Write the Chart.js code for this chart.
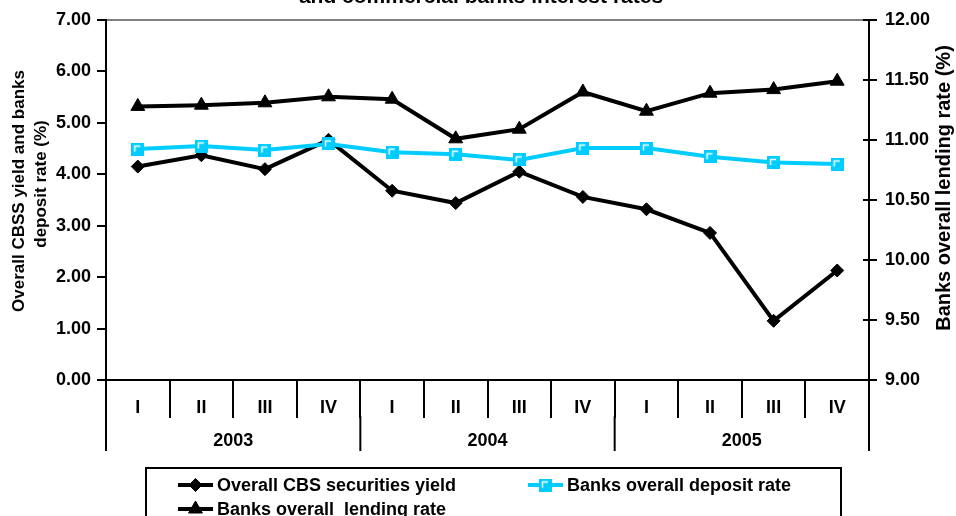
<!DOCTYPE html>
<html>
<head>
<meta charset="utf-8">
<script src="https://cdn.jsdelivr.net/npm/chart.js@4.4.1/dist/chart.umd.min.js"></script>
<style>
  html, body { margin: 0; padding: 0; background: #fff; }
  #wrap { width: 956px; height: 516px; overflow: hidden; }
</style>
</head>
<body>
<div id="wrap"><canvas id="rates" width="956" height="516"></canvas></div>
<script>
// quarterly figures, 2003-2005
const quarters = ["I", "II", "III", "IV", "I", "II", "III", "IV", "I", "II", "III", "IV"];
const years = ["2003", "2004", "2005"];
const cbsYield = [4.15, 4.37, 4.10, 4.67, 3.68, 3.44, 4.05, 3.56, 3.32, 2.86, 1.15, 2.13];
const depositRate = [4.49, 4.55, 4.47, 4.59, 4.43, 4.39, 4.28, 4.51, 4.51, 4.34, 4.23, 4.20];
const lendingRate = [11.28, 11.29, 11.31, 11.36, 11.34, 11.01, 11.09, 11.40, 11.24, 11.39, 11.42, 11.49];

const seriesNames = ["Overall CBS securities yield", "Banks overall deposit rate", "Banks overall  lending rate"];
const titleLine = "and commercial banks interest rates";
const leftTitle = ["Overall CBSS yield and banks", "deposit rate (%)"];
const rightTitle = "Banks overall lending rate (%)";

const FONT = "'Liberation Sans', Arial, Helvetica, sans-serif";
const cyan = "#00CCFF";

Chart.defaults.font.family = FONT;
Chart.defaults.color = "#000";

// cyan square marker with the little white corner inside
function squareMarker() {
  const c = document.createElement("canvas");
  c.width = 13; c.height = 13;
  const g = c.getContext("2d");
  g.fillStyle = cyan;
  g.fillRect(0, 0, 13, 13);
  g.strokeStyle = "#fff";
  g.lineWidth = 1.5;
  g.beginPath();
  g.moveTo(3.5, 9); g.lineTo(3.5, 3.5); g.lineTo(9, 3.5);
  g.stroke();
  return c;
}
const cyanSquare = squareMarker();

// title, axis titles, year row and the boxed legend
const extras = {
  id: "extras",
  afterDraw(chart) {
    const ctx = chart.ctx;
    const x = chart.scales.x;
    const y1 = chart.scales.y1;
    ctx.save();
    ctx.fillStyle = "#000";

    ctx.font = "bold 21px " + FONT;
    ctx.textAlign = "center";
    ctx.textBaseline = "alphabetic";
    ctx.fillText(titleLine, 481, 3);

    // axis titles
    ctx.font = "bold 17px " + FONT;
    ctx.textBaseline = "middle";
    ctx.save();
    ctx.translate(19, 191); ctx.rotate(-Math.PI / 2);
    ctx.fillText(leftTitle[0], 0, 0);
    ctx.restore();
    ctx.save();
    ctx.translate(41, 184); ctx.rotate(-Math.PI / 2);
    ctx.fillText(leftTitle[1], 0, 0);
    ctx.restore();
    ctx.save();
    ctx.font = "bold 20px " + FONT;
    ctx.translate(944, 188); ctx.rotate(-Math.PI / 2);
    ctx.fillText(rightTitle, 0, 0);
    ctx.restore();

    // right axis tick marks cross the axis line
    ctx.strokeStyle = "#000";
    ctx.lineWidth = 2;
    y1.ticks.forEach(t => {
      const py = y1.getPixelForValue(t.value);
      ctx.beginPath();
      ctx.moveTo(y1.left - 6, py);
      ctx.lineTo(y1.left, py);
      ctx.stroke();
    });

    // year dividers and labels
    const step = (x.getPixelForValue(1) - x.getPixelForValue(0));
    for (let i = 0; i <= years.length; i++) {
      const px = x.getPixelForValue(i * 4) - step / 2;
      ctx.beginPath();
      ctx.moveTo(px, x.top + 36);
      ctx.lineTo(px, x.top + 71);
      ctx.stroke();
    }
    ctx.font = "bold 18px " + FONT;
    years.forEach((yr, i) => {
      const cx = (x.getPixelForValue(i * 4) + x.getPixelForValue(i * 4 + 3)) / 2;
      ctx.fillText(yr, cx, x.top + 61);
    });

    // legend
    ctx.strokeRect(146, 468, 695, 80);
    const spots = [[178, 485], [528, 485], [178, 509]];
    chart.data.datasets.forEach((ds, i) => {
      const [lx, ly] = spots[i];
      ctx.strokeStyle = ds.borderColor;
      ctx.lineWidth = 4;
      ctx.beginPath();
      ctx.moveTo(lx, ly); ctx.lineTo(lx + 35, ly);
      ctx.stroke();
      ctx.fillStyle = ds.backgroundColor;
      ctx.strokeStyle = ds.borderColor;
      ctx.lineWidth = 1;
      Chart.helpers.drawPoint(ctx, { pointStyle: ds.pointStyle, radius: ds.pointRadius, rotation: 0, borderWidth: 1 }, lx + 17.5, ly);
      ctx.fillStyle = "#000";
      ctx.textAlign = "left";
      ctx.font = "bold 18px " + FONT;
      ctx.fillText(ds.label, lx + 39, ly + 1);
    });
    ctx.restore();
  }
};

new Chart(document.getElementById("rates"), {
  type: "line",
  data: {
    labels: quarters,
    datasets: [
      {
        label: seriesNames[0], data: cbsYield, yAxisID: "y", order: 2,
        borderColor: "#000", backgroundColor: "#000", borderWidth: 4,
        pointStyle: "rectRot", pointRadius: 6.5, pointBorderWidth: 1
      },
      {
        label: seriesNames[1], data: depositRate, yAxisID: "y", order: 1,
        borderColor: cyan, backgroundColor: cyan, borderWidth: 4,
        pointStyle: cyanSquare, pointRadius: 7
      },
      {
        label: seriesNames[2], data: lendingRate, yAxisID: "y1", order: 3,
        borderColor: "#000", backgroundColor: "#000", borderWidth: 4,
        pointStyle: "triangle", pointRadius: 8, pointBorderWidth: 1
      }
    ]
  },
  options: {
    responsive: false,
    animation: false,
    layout: { padding: { top: 20, left: 0, right: 0, bottom: 0 } },
    plugins: { legend: { display: false }, tooltip: { enabled: false } },
    elements: { line: { tension: 0 } },
    scales: {
      x: {
        offset: true,
        grid: { offset: true, drawOnChartArea: false, color: "#000", lineWidth: 2, tickLength: 38 },
        border: { color: "#000", width: 2 },
        ticks: { font: { size: 18, weight: "bold" }, padding: -21, maxRotation: 0, autoSkip: false },
        afterFit(s) { s.height = 136; }
      },
      y: {
        position: "left", min: 0, max: 7,
        ticks: { stepSize: 1, padding: 6, font: { size: 18, weight: "bold" }, callback: v => v.toFixed(2) },
        grid: {
          color: c => (c.tick && c.tick.value === 7 ? "#808080" : "rgba(0,0,0,0)"),
          tickColor: "#000", tickLength: 9, lineWidth: 2
        },
        border: { color: "#000", width: 2 },
        afterFit(s) { s.width = 106; }
      },
      y1: {
        position: "right", min: 9, max: 12,
        ticks: { stepSize: 0.5, padding: 8, font: { size: 18, weight: "bold" }, callback: v => v.toFixed(2) },
        grid: { drawOnChartArea: false, tickColor: "#000", tickLength: 8, lineWidth: 2 },
        border: { color: "#000", width: 2 },
        afterFit(s) { s.width = 87; }
      }
    }
  },
  plugins: [extras]
});
</script>
</body>
</html>
